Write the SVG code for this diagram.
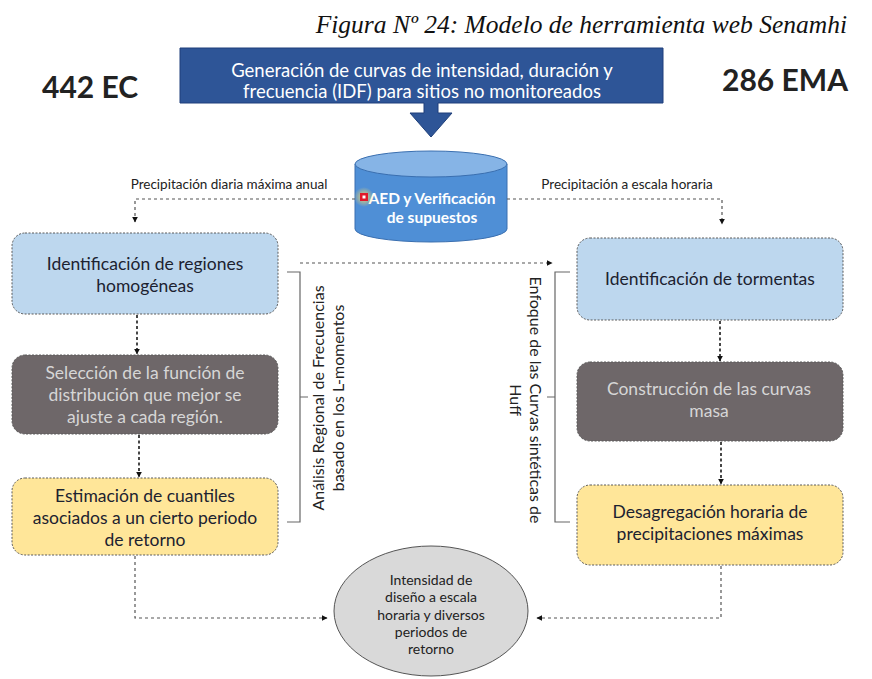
<svg xmlns="http://www.w3.org/2000/svg" width="872" height="679" viewBox="0 0 872 679">
<defs>
<style>
.t{font-family:Lato,"Open Sans","Liberation Sans",sans-serif;text-anchor:middle}
.box{stroke:#5a5a5a;stroke-width:1;stroke-dasharray:2 1.5}
.lb{fill:#BDD7EE}
.dg{fill:#6E6769}
.yl{fill:#FFE699}
.dk{fill:#1c2230;font-size:17.5px}
.lt{fill:#d6d6d6;font-size:17.5px}
.conn{fill:none;stroke:#333;stroke-width:1.8;stroke-dasharray:3 2.5}
.conn2{fill:none;stroke:#555;stroke-width:1.2;stroke-dasharray:3 3}
.br{fill:none;stroke:#666;stroke-width:1.2}
.lab{fill:#222;font-size:13.5px}
</style>
<marker id="ah" viewBox="0 0 10 10" refX="9" refY="5" markerWidth="6" markerHeight="6" orient="auto" markerUnits="userSpaceOnUse">
<path d="M0,0 L10,5 L0,10 z" fill="#111"/>
</marker>
<radialGradient id="glow"><stop offset="0" stop-color="#ffdd66" stop-opacity="0.9"/><stop offset="1" stop-color="#ffdd66" stop-opacity="0"/></radialGradient>
</defs>
<rect width="872" height="679" fill="#fff"/>

<text x="847" y="33" font-family="'Liberation Serif','Times New Roman',serif" font-style="italic" font-size="25.5" text-anchor="end" fill="#111">Figura Nº 24: Modelo de herramienta web Senamhi</text>

<text x="42" y="98" font-family="Lato,'Liberation Sans',sans-serif" font-weight="bold" font-size="30" fill="#222">442 EC</text>
<text x="848" y="91" font-family="Lato,'Liberation Sans',sans-serif" font-weight="bold" font-size="30" text-anchor="end" fill="#222">286 EMA</text>

<g id="top">
<path d="M180,48 H663 V103 H438 V113 H452 L431,137 L410,113 H424 V103 H180 Z" fill="#2E5597" stroke="#1e3f7a" stroke-width="1"/>
<text class="t" x="422" y="77" fill="#fff" font-size="18.5">Generación de curvas de intensidad, duración y</text>
<text class="t" x="422" y="98" fill="#fff" font-size="18.5">frecuencia (IDF) para sitios no monitoreados</text>
</g>

<g id="aed">
<path d="M355,164 V229 A76,13 0 0 0 507,229 V164" fill="#4F8FD6" stroke="#3a6fb0" stroke-width="1"/>
<ellipse cx="431" cy="164" rx="76" ry="13" fill="#86B4E6" stroke="#3a6fb0" stroke-width="1"/>
<text class="t" x="432" y="204" fill="#fff" font-size="15.5" font-weight="bold">AED y Verificación</text>
<text class="t" x="432" y="223" fill="#fff" font-size="15.5" font-weight="bold">de supuestos</text>
<circle cx="364" cy="197" r="10" fill="url(#glow)"/>
<rect x="360" y="193" width="8" height="8" fill="#e0192b"/>
<rect x="362.5" y="195.5" width="3" height="3" fill="#fff"/>
</g>

<g id="n1">
<rect class="box lb" x="12" y="233" width="266" height="81" rx="13"/>
<text class="t dk" x="145" y="270">Identificación de regiones</text>
<text class="t dk" x="145" y="292">homogéneas</text>
</g>
<g id="n2">
<rect class="box dg" x="12" y="355" width="266" height="79" rx="13"/>
<text class="t lt" x="145" y="379">Selección de la función de</text>
<text class="t lt" x="145" y="401">distribución que mejor se</text>
<text class="t lt" x="145" y="423">ajuste a cada región.</text>
</g>
<g id="n3">
<rect class="box yl" x="12" y="478" width="266" height="77" rx="13"/>
<text class="t dk" x="145" y="502">Estimación de cuantiles</text>
<text class="t dk" x="145" y="524">asociados a un cierto periodo</text>
<text class="t dk" x="145" y="546">de retorno</text>
</g>

<g id="n4">
<rect class="box lb" x="577" y="238" width="266" height="82" rx="13"/>
<text class="t dk" x="710" y="285">Identificación de tormentas</text>
</g>
<g id="n5">
<rect class="box dg" x="577" y="362" width="266" height="79" rx="13"/>
<text class="t lt" x="709" y="395">Construcción de las curvas</text>
<text class="t lt" x="709" y="417">masa</text>
</g>
<g id="n6">
<rect class="box yl" x="577" y="485" width="266" height="80" rx="13"/>
<text class="t dk" x="710" y="518">Desagregación horaria de</text>
<text class="t dk" x="710" y="540">precipitaciones máximas</text>
</g>

<g id="out">
<ellipse cx="431" cy="611" rx="97" ry="65" fill="#D9D9D9" stroke="#555" stroke-width="1"/>
<g class="t" fill="#222" font-size="14">
<text x="431" y="585">Intensidad de</text>
<text x="431" y="602">diseño a escala</text>
<text x="431" y="620">horaria y diversos</text>
<text x="431" y="637">periodos de</text>
<text x="431" y="654">retorno</text>
</g>
</g>

<g id="labels">
<text class="t lab" x="229" y="189">Precipitación diaria máxima anual</text>
<text class="t lab" x="627" y="189">Precipitación a escala horaria</text>
<g class="t" fill="#222" font-size="16">
<text transform="translate(324,398) rotate(-90)">Análisis Regional de Frecuencias</text>
<text transform="translate(344,398) rotate(-90)">basado en  los L-momentos</text>
<text transform="translate(530,400) rotate(90)">Enfoque de las Curvas sintéticas de</text>
<text transform="translate(510,400) rotate(90)">Huff</text>
</g>
<path class="br" d="M287,272 H300 V522 H287 M300,397 H308"/>
<path class="br" d="M570,272 H555 V522 H570 M555,397 H547"/>
</g>

<g id="connectors">
<path class="conn2" d="M355,199 H135 V222" marker-end="url(#ah)"/>
<path class="conn2" d="M507,199 H722 V224" marker-end="url(#ah)"/>
<path class="conn2" d="M300,263 H552" marker-end="url(#ah)"/>
<path class="conn" d="M137,315 V354" marker-end="url(#ah)"/>
<path class="conn" d="M139,435 V477" marker-end="url(#ah)"/>
<path class="conn" d="M720,321 V361" marker-end="url(#ah)"/>
<path class="conn" d="M721,442 V484" marker-end="url(#ah)"/>
<path class="conn2" d="M135,556 V618 H327" marker-end="url(#ah)"/>
<path class="conn2" d="M721,566 V618 H537" marker-end="url(#ah)"/>
</g>
</svg>
